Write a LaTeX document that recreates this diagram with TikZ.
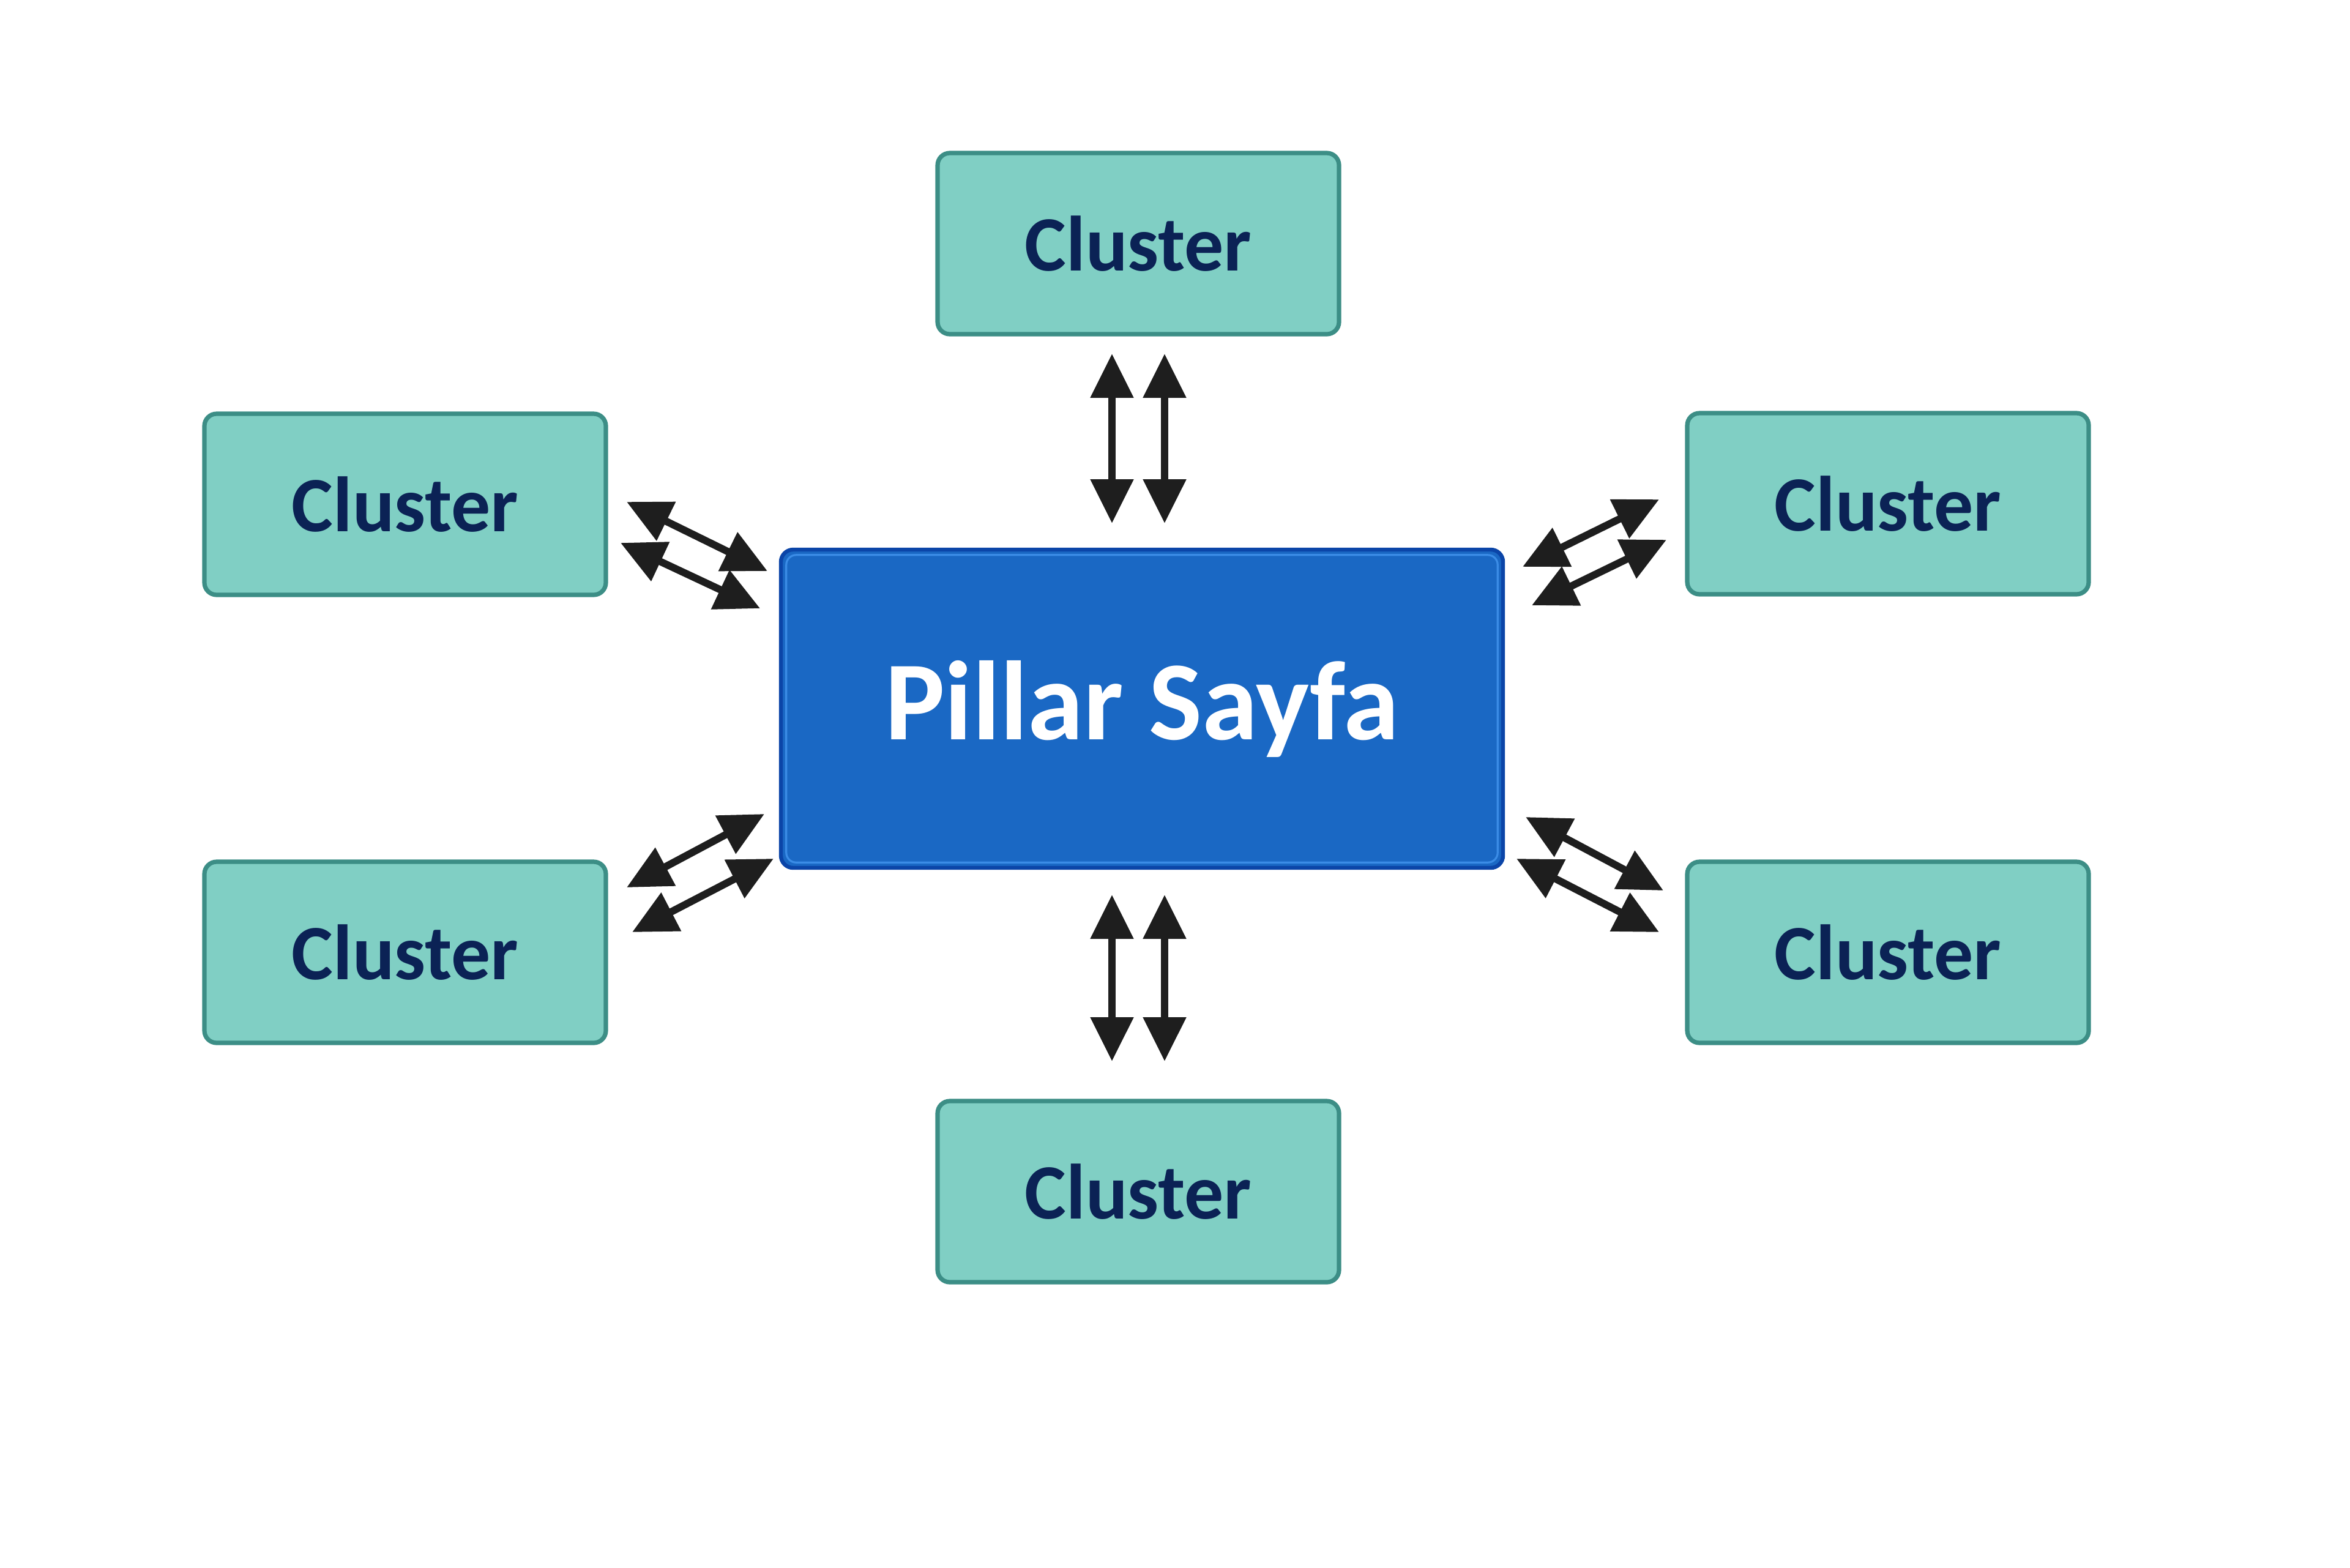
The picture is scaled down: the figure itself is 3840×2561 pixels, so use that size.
\documentclass[tikz,border=0pt]{standalone}
\usepackage{fontspec}
\setmainfont{Carlito}
\usetikzlibrary{arrows.meta}
\definecolor{tealfill}{HTML}{80CFC4}
\definecolor{tealline}{HTML}{3C8E86}
\definecolor{navy}{HTML}{0B2255}
\definecolor{pillarfill}{HTML}{1A68C4}
\definecolor{pillarline}{HTML}{0B45A8}
\definecolor{pillarhl}{HTML}{3B8CE6}
\definecolor{arrowc}{HTML}{1E1E1E}
\begin{document}
\begin{tikzpicture}[x=0.25pt,y=-0.25pt,
 cluster/.style={draw=tealline, fill=tealfill, line width=1.8pt, rounded corners=5pt, minimum width=164pt, minimum height=74pt, text=navy, font=\bfseries\fontsize{32}{36}\selectfont, inner sep=0pt},
 pillar/.style={draw=pillarline, fill=pillarfill, line width=1.6pt, rounded corners=5pt, minimum width=295pt, minimum height=130pt, text=white, font=\bfseries\fontsize{46}{50}\selectfont, inner sep=0pt},
 hl/.style={draw=pillarhl, line width=0.8pt, rounded corners=4pt},
 bi/.style={draw=arrowc, line width=3pt, {Triangle[width=17pt,length=18pt]}-{Triangle[width=17pt,length=18pt]}}
]
\fill[white] (0,0) rectangle (3840,2561);
\useasboundingbox (0,0) rectangle (3840,2561);

\node[pillar] (c) at (1866,1158) {Pillar Sayfa};
\draw[hl] ([shift={(3pt,-3pt)}]c.north west) rectangle ([shift={(-3pt,3pt)}]c.south east);

\node[cluster] (t)  at (1860,398)  {Cluster};
\node[cluster] (b)  at (1860,1947) {Cluster};
\node[cluster] (lt) at (662,824)   {Cluster};
\node[cluster] (rt) at (3085,823)  {Cluster};
\node[cluster] (lb) at (662,1556)  {Cluster};
\node[cluster] (rb) at (3085,1556) {Cluster};

% vertical pairs
\coordinate (t1a) at (1817,578); \coordinate (t1b) at (1817,855);
\coordinate (t2a) at (1903,578); \coordinate (t2b) at (1903,855);
\coordinate (b1a) at (1817,1462); \coordinate (b1b) at (1817,1734);
\coordinate (b2a) at (1903,1462); \coordinate (b2b) at (1903,1734);
% diagonal pairs
\coordinate (lt1a) at (1024,820); \coordinate (lt1b) at (1254,933);
\coordinate (lt2a) at (1014,887); \coordinate (lt2b) at (1242,994);
\coordinate (rt1a) at (2488,926); \coordinate (rt1b) at (2711,816);
\coordinate (rt2a) at (2503,989); \coordinate (rt2b) at (2723,882);
\coordinate (lb1a) at (1024,1450); \coordinate (lb1b) at (1249,1330);
\coordinate (lb2a) at (1033,1523); \coordinate (lb2b) at (1264,1403);
\coordinate (rb1a) at (2493,1335); \coordinate (rb1b) at (2718,1455);
\coordinate (rb2a) at (2478,1403); \coordinate (rb2b) at (2711,1523);

\foreach \p in {t1,t2,b1,b2,lt1,lt2,rt1,rt2,lb1,lb2,rb1,rb2}
  \draw[bi] (\p a) -- (\p b);
\end{tikzpicture}
\end{document}
